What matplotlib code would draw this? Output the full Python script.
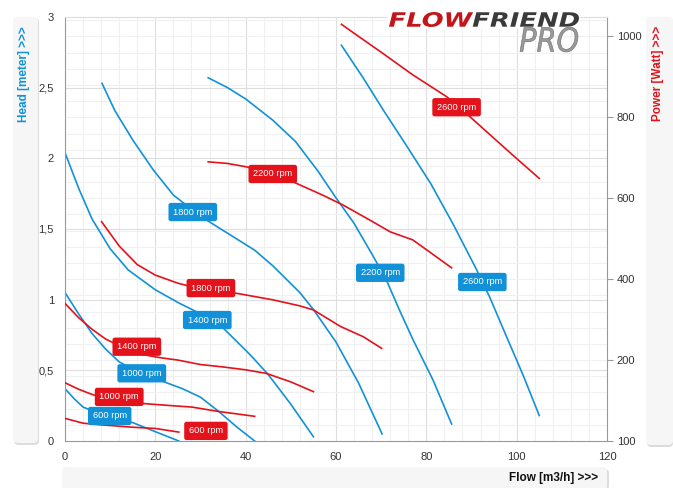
import numpy as np
import matplotlib
matplotlib.use("Agg")
from matplotlib import pyplot as plt
from matplotlib.patches import FancyBboxPatch, PathPatch, Rectangle
from matplotlib.textpath import TextPath
from matplotlib.font_manager import FontProperties
from matplotlib.transforms import Affine2D, IdentityTransform

plt.rcParams['font.family'] = ['Liberation Sans', 'DejaVu Sans']

BLUE = '#1291d9'
RED = '#e3121b'

# head curves (left axis, meter) per speed
rpm_labels = ['600 rpm', '1000 rpm', '1400 rpm', '1800 rpm', '2200 rpm', '2600 rpm']

head_x = [
    [0, 2, 4, 8, 12, 15, 20, 25.2],
    [0, 3, 6, 9, 12, 16, 21, 26, 30, 34, 38, 42],
    [0, 3, 6, 10, 14, 20, 25, 30, 35, 41, 45, 50, 55],
    [8.2, 11, 15, 19.5, 24, 28, 31.5, 37, 42, 46, 52, 55, 60, 65, 70.2],
    [31.7, 36, 40, 46, 51, 56, 60, 64, 68, 71, 74, 77, 81.5, 85.6],
    [61.2, 66, 70.5, 75.6, 81, 86, 91, 94, 98, 101.5, 105],
]
head_y = [
    [0.37, 0.30, 0.24, 0.19, 0.155, 0.13, 0.066, 0.0],
    [1.05, 0.90, 0.76, 0.65, 0.56, 0.49, 0.43, 0.37, 0.31, 0.21, 0.10, 0.0],
    [2.04, 1.79, 1.57, 1.36, 1.21, 1.07, 0.98, 0.90, 0.80, 0.61, 0.47, 0.26, 0.03],
    [2.53, 2.34, 2.13, 1.92, 1.74, 1.64, 1.56, 1.45, 1.35, 1.24, 1.05, 0.93, 0.70, 0.41, 0.05],
    [2.57, 2.50, 2.42, 2.27, 2.12, 1.91, 1.72, 1.54, 1.32, 1.15, 0.93, 0.72, 0.43, 0.12],
    [2.80, 2.57, 2.34, 2.09, 1.82, 1.53, 1.22, 1.02, 0.72, 0.46, 0.18],
]

# power curves (right axis, Watt)
power_x = [
    [0, 4, 8, 15, 20, 25.2],
    [0, 3, 6, 10, 14, 18, 24, 28, 34, 38, 42],
    [0, 3, 6, 9, 13, 17, 21, 25, 30, 35, 40, 44.6, 50, 55],
    [8.1, 12, 16, 20, 25, 30, 38, 46, 52, 55, 61, 66, 70.1],
    [31.7, 36, 40, 45, 51, 57, 61.6, 67.5, 72, 77, 81, 85.6],
    [61.2, 65, 70, 77, 84.5, 88, 92, 96, 99.2, 105],
]
power_y = [
    [56, 44, 40, 34, 31, 22],
    [144, 128, 115, 103, 96, 92, 87, 84, 73, 67, 61],
    [340, 305, 276, 252, 230, 214, 206, 200, 189, 183, 176, 167, 146, 122],
    [542, 482, 436, 410, 390, 376, 365, 349, 334, 324, 283, 258, 229],
    [690, 686, 678, 665, 638, 608, 583, 546, 517, 497, 465, 428],
    [1030, 1000, 961, 905, 851, 818, 778, 738, 706, 649],
]

# label anchor points
head_lbl_x = [9.9, 17.0, 31.5, 28.3, 69.8, 92.4]
head_lbl_y = [0.177, 0.479, 0.856, 1.62, 1.19, 1.125]
power_lbl_x = [31.2, 12.0, 15.9, 32.3, 46.0, 86.7]
power_lbl_y = [25, 109, 233, 378, 660, 825]

x_ticks = [0, 20, 40, 60, 80, 100, 120]
head_ticks = [0, 0.5, 1, 1.5, 2, 2.5, 3]
head_tick_labels = ['0', '0,5', '1', '1,5', '2', '2,5', '3']
power_ticks = [0, 200, 400, 600, 800, 1000]
power_tick_labels = ['100', '200', '400', '600', '800', '1000']

W, H = 673, 488
P_MAX = 1048

fig = plt.figure(figsize=(W / 100, H / 100), dpi=100)
fig.patch.set_facecolor('white')


def fbox(x0, y0, x1, y1, color, z=0):
    # pixel box (top-left origin) -> figure coords
    p = FancyBboxPatch((x0 / W, 1 - y1 / H), (x1 - x0) / W, (y1 - y0) / H,
                       boxstyle='round,pad=0,rounding_size=0.008',
                       transform=fig.transFigure, facecolor=color,
                       edgecolor='none', zorder=z)
    fig.add_artist(p)


# side panels (shadow then panel)
fbox(14, 18, 39, 445, '#dcdcdc', -2)
fbox(13, 17, 38, 443, '#f6f6f6', -1)
fbox(647, 18, 673, 447, '#dcdcdc', -2)
fbox(646, 17, 673, 445, '#f6f6f6', -1)
fbox(63, 469, 609, 490, '#dcdcdc', -2)
fbox(62, 467, 607, 490, '#f6f6f6', -1)

ax = fig.add_axes([65 / W, 1 - 441 / H, (607 - 65) / W, (441 - 17) / H])
ax.set_xlim(0, 120)
ax.set_ylim(0, 3)

# grid
for v in np.arange(4, 120, 4):
    ax.axvline(v, color='#dedede' if v % 20 == 0 else '#f0f0f0', lw=0.8, zorder=0)
for p in range(40, P_MAX, 40):
    ax.axhline(p * 3 / P_MAX, color='#f0f0f0', lw=0.8, zorder=0)
for h in head_ticks[1:-1]:
    ax.axhline(h, color='#dedede', lw=0.8, zorder=0)

for xs, ys in zip(head_x, head_y):
    ax.plot(xs, ys, color=BLUE, lw=1.2, zorder=2)

ax.set_xticks(x_ticks)
ax.set_yticks(head_ticks)
ax.set_yticklabels(head_tick_labels)
ax.tick_params(axis='both', length=0, labelsize=8, colors='#333333')
ax.tick_params(axis='x', pad=8)
ax.tick_params(axis='y', pad=8)
for s in ['left', 'bottom', 'right']:
    ax.spines[s].set_color('#999999')
ax.spines['top'].set_color('#dddddd')

ax2 = ax.twinx()
ax2.set_ylim(0, P_MAX)
for xs, ys in zip(power_x, power_y):
    ax2.plot(xs, ys, color=RED, lw=1.2, zorder=2)
ax2.set_yticks(power_ticks)
ax2.set_yticklabels(power_tick_labels)
ax2.tick_params(axis='y', length=4, width=0.8, color='#999999', labelsize=8,
                labelcolor='#333333', pad=3)
for s in ax2.spines.values():
    s.set_visible(False)

bb = dict(boxstyle='round,pad=0.5,rounding_size=0.25', ec='none')
for lbl, x, y in zip(rpm_labels, head_lbl_x, head_lbl_y):
    ax2.text(x, y, lbl, transform=ax.transData, ha='center', va='center',
             fontsize=6.7, color='white', bbox=dict(bb, fc=BLUE), zorder=5)
for lbl, x, y in zip(rpm_labels, power_lbl_x, power_lbl_y):
    ax2.text(x, y, lbl, ha='center', va='center', fontsize=6.7, color='white',
             bbox=dict(bb, fc=RED), zorder=5)

# axis titles in the panels
fig.text(24 / W, 1 - 26 / H, 'Head [meter] >>>', rotation=90, ha='center', va='top',
         fontsize=8.5, fontweight='bold', color=BLUE)
fig.text(658 / W, 1 - 26 / H, 'Power [Watt] >>>', rotation=90, ha='center', va='top',
         fontsize=8.5, fontweight='bold', color=RED)
fig.text(598 / W, 1 - 478 / H, 'Flow [m3/h] >>>', ha='right', va='center',
         fontsize=8.5, fontweight='bold', color='#111111')

# logo, drawn as stretched text paths in pixel space
fig.add_artist(Rectangle((387, H - 29), 193, 20, transform=IdentityTransform(),
                         fc='white', ec='none', zorder=3))
fp_bold = FontProperties(family='DejaVu Sans', weight='bold', style='italic')
fp_thin = FontProperties(family='DejaVu Sans', style='italic')
full = TextPath((0, 0), 'FLOWFRIEND', size=20, prop=fp_bold).get_extents()
friend = TextPath((0, 0), 'FRIEND', size=20, prop=fp_bold)
flow = TextPath((0, 0), 'FLOW', size=20, prop=fp_bold)
off = full.x1 - friend.get_extents().x1
sx, sy = 190 / full.width, 15 / full.height
base = Affine2D().translate(-full.x0, -full.y0).scale(sx, sy).translate(389, H - 27)
fig.add_artist(PathPatch(flow, transform=base, fc='#c3161c', ec='none', zorder=4))
fig.add_artist(PathPatch(friend, transform=Affine2D().translate(off, 0) + base,
                         fc='#3a3a3a', ec='none', zorder=4))
pro = TextPath((0, 0), 'PRO', size=20, prop=fp_thin)
pe = pro.get_extents()
ptr = Affine2D().translate(-pe.x0, -pe.y0).scale(58 / pe.width, 25 / pe.height).translate(520, H - 52)
fig.add_artist(PathPatch(pro, transform=ptr, fc='#9a9a9a', ec='#6a6a6a', lw=0.4, zorder=4))

fig.savefig('out.png', dpi=100)
